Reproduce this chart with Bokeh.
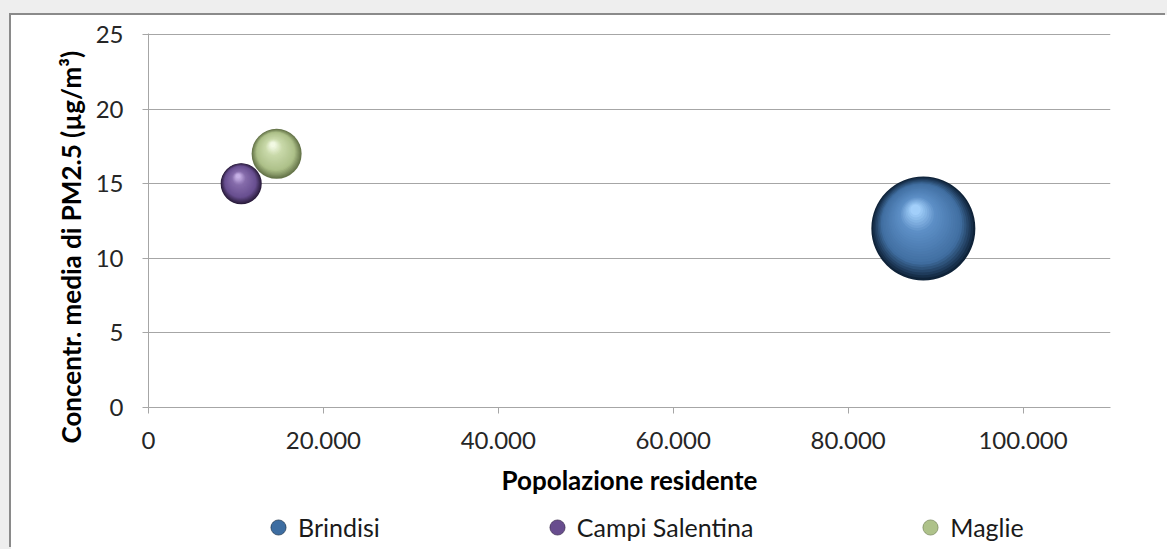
import math
from bokeh.plotting import figure
from bokeh.layouts import column
from bokeh.models import ColumnDataSource, Range1d, FixedTicker, Legend, LegendItem, Title
from bokeh.embed import file_html
from bokeh.resources import INLINE

# ---- data ----
cities = ["Brindisi", "Campi Salentina", "Maglie"]
population = [88600, 10600, 14650]
pm25 = [12.0, 15.0, 17.0]
bubble_size = [100.0, 15.6, 23.1]
x_ticks = [0, 20000, 40000, 60000, 80000, 100000]
x_tick_labels = ["0", "20.000", "40.000", "60.000", "80.000", "100.000"]
y_ticks = [0, 5, 10, 15, 20, 25]
x_title = "Popolazione residente"
y_title = "Concentr. media di PM2.5 (µg/m³)"

# ---- styles ----
shade = {
    "Brindisi": ["#0f2339", "#416fa2", "#5d8fc6", "#a2cffa"],
    "Campi Salentina": ["#2b1d3d", "#684f90", "#866cab", "#c6b0e6"],
    "Maglie": ["#66754a", "#adc089", "#c9d9aa", "#f2f9e3"],
}
legend_color = {"Brindisi": "#3d6da1", "Campi Salentina": "#684d8e", "Maglie": "#aec28a"}
stops = [0.0, 0.25, 0.72, 1.0]

X_MAX, Y_MAX = 110000, 25
FRAME_W, FRAME_H = 962, 374
Y_TOP = Y_MAX * FRAME_H / (FRAME_H - 1)
MAX_DIAM = 104
FONT = "Lato"

def hex2rgb(h):
    return tuple(int(h[i:i + 2], 16) for i in (1, 3, 5))

def grad(cols, t):
    for j in range(len(stops) - 1):
        if t <= stops[j + 1]:
            f = (t - stops[j]) / (stops[j + 1] - stops[j])
            a, b = hex2rgb(cols[j]), hex2rgb(cols[j + 1])
            c = [round(a[k] + (b[k] - a[k]) * f) for k in range(3)]
            return "#%02x%02x%02x" % tuple(c)
    return cols[-1]

ux = X_MAX / FRAME_W   # data units per pixel
uy = Y_TOP / FRAME_H
N = 26
xs, ys, sizes, colors = [], [], [], []
for name, px, py, s in zip(cities, population, pm25, bubble_size):
    r = MAX_DIAM * math.sqrt(s / max(bubble_size)) / 2
    for k in range(N):
        t = k / (N - 1)
        rk = r * (1 - 0.9 * t)
        xs.append(px + (-0.15 * r * t) * ux)
        ys.append(py + (0.36 * r * t) * uy)
        sizes.append(2 * rk)
        colors.append(grad(shade[name], t))

src = ColumnDataSource(dict(x=xs, y=ys, size=sizes, color=colors))

# ---- main chart ----
p = figure(width=1156, height=492,
           x_range=Range1d(0, X_MAX), y_range=Range1d(0, Y_TOP),
           output_backend="svg", toolbar_location=None,
           min_border_left=137, min_border_right=57,
           min_border_top=18, min_border_bottom=100,
           background_fill_color="white", border_fill_color="white",
           outline_line_color=None)

p.scatter("x", "y", size="size", fill_color="color", line_color=None, source=src)

p.xgrid.visible = False
p.ygrid.grid_line_color = "#a6a6a6"
p.ygrid.grid_line_width = 1
p.ygrid.ticker = FixedTicker(ticks=y_ticks)

for ax in (p.xaxis[0], p.yaxis[0]):
    ax.axis_line_color = "#a6a6a6"
    ax.major_tick_line_color = "#a6a6a6"
    ax.major_tick_out = 6
    ax.major_tick_in = 0
    ax.minor_tick_line_color = None
    ax.major_label_text_font = FONT
    ax.major_label_text_font_size = "24px"
    ax.major_label_text_color = "#262626"
    ax.axis_label_text_font = FONT
    ax.axis_label_text_font_style = "bold"
    ax.axis_label_text_font_size = "26px"
    ax.axis_label_text_color = "#000000"

p.xaxis.ticker = FixedTicker(ticks=x_ticks)
p.xaxis.major_label_overrides = {t: l for t, l in zip(x_ticks, x_tick_labels)}
p.xaxis.major_label_standoff = 18
p.xaxis.axis_label = x_title
p.xaxis.axis_label_standoff = 12

p.yaxis.ticker = FixedTicker(ticks=y_ticks)
p.yaxis.major_label_standoff = 19

ytitle = Title(text=y_title, align="left", offset=-36, standoff=12,
               text_font=FONT, text_font_style="bold", text_font_size="26px",
               text_color="#000000")
p.add_layout(ytitle, "left")

# ---- legend strip (its own small plot; points lie outside its view) ----
p2 = figure(width=1156, height=42, x_range=Range1d(0, 1), y_range=Range1d(0, 1),
            output_backend="svg", toolbar_location=None,
            min_border_left=0, min_border_right=0, min_border_top=0, min_border_bottom=0,
            background_fill_color="white", border_fill_color="white",
            outline_line_color=None)
p2.axis.visible = False
p2.grid.visible = False

items = []
for name, px, py in zip(cities, population, pm25):
    rr = p2.scatter(x=[px], y=[py], size=16, fill_color=legend_color[name],
                    line_color=shade[name][0], line_width=0.6)
    items.append(LegendItem(label=name, renderers=[rr]))

legend = Legend(items=items, orientation="horizontal",
                location=(110, 3), glyph_width=40, glyph_height=38,
                label_standoff=0, spacing=157, padding=0, margin=0,
                label_text_font=FONT, label_text_font_size="25px",
                label_text_color="#1a1a1a",
                border_line_alpha=0, background_fill_alpha=0)
p2.add_layout(legend, "center")

layout = column(p, p2, spacing=0)
layout.margin = (15, 0, 0, 11)
layout.styles = {"box-shadow": "-2px -2px 0 0 #8a8a8a, -11px -15px 0 0 #eeeeee, "
                               "0 -15px 0 0 #eeeeee, -11px 0 0 0 #eeeeee"}

open("out.html", "w").write(file_html(layout, INLINE))
